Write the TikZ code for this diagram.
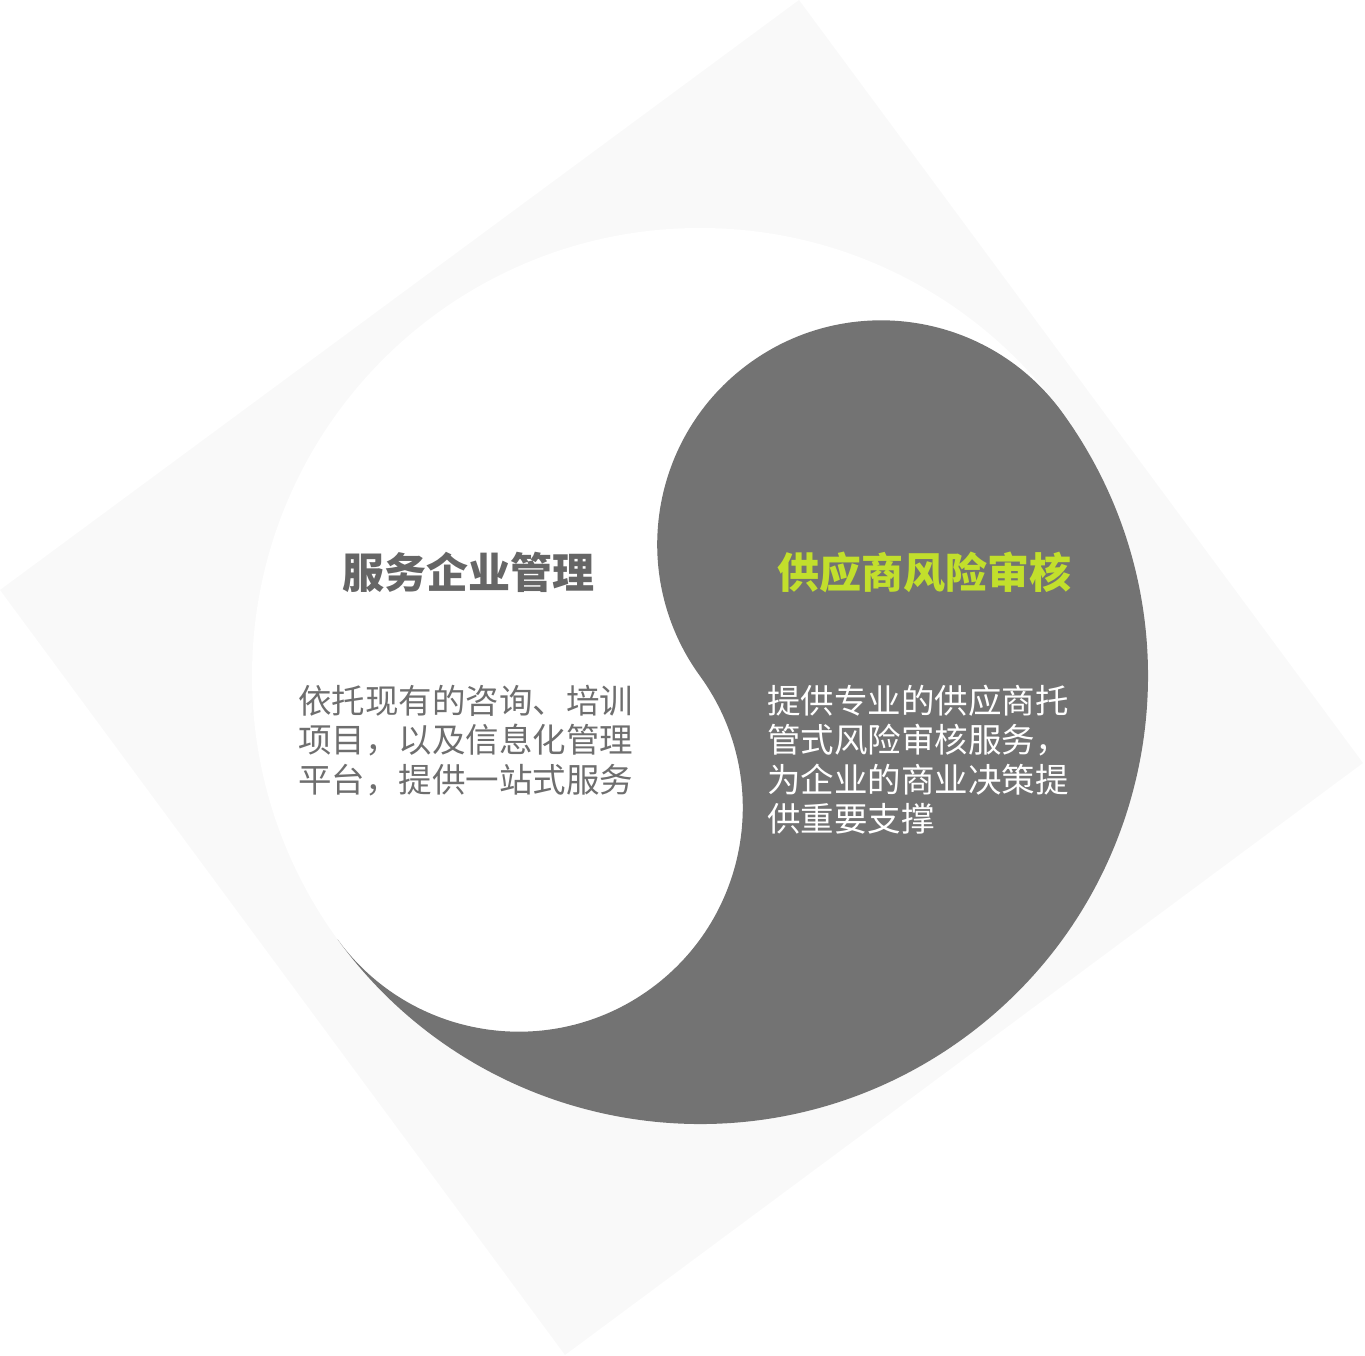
\documentclass[tikz,border=0pt]{standalone}
\usepackage{fontspec}
\setmainfont{Noto Sans CJK SC}
\definecolor{bgdiamond}{HTML}{F9F9F9}
\definecolor{yingray}{HTML}{737373}
\definecolor{titlegreen}{HTML}{C2DF2C}
\definecolor{titlegray}{HTML}{666666}
\definecolor{bodygray}{HTML}{6E6E6E}
\tikzset{
  titlefont/.style={font=\fontsize{42pt}{48pt}\selectfont\bfseries, inner sep=0pt, anchor=base},
  bodyfont/.style={font=\fontsize{33.5pt}{40pt}\selectfont, inner sep=0pt, anchor=base west},
}
\begin{document}
\begin{tikzpicture}[x=1pt,y=1pt]
\useasboundingbox (0,0) rectangle (1365,1356);
% faint rotated background square
\fill[bgdiamond] (799,1356) -- (1363,593) -- (565,1) -- (0,766) -- cycle;
% white disc
\fill[white] (700,680) circle[radius=448pt];
% grey yin-yang half
\fill[yingray] (337.55,416.65)
  arc[start angle=216, end angle=396, radius=448pt]
  arc[start angle=36, end angle=216, radius=224pt]
  arc[start angle=36, end angle=-144, radius=224pt] -- cycle;
% titles
\node[titlefont, text=titlegray] (titleL) at (468,767) {服务企业管理};
\node[titlefont, text=titlegreen] (titleR) at (924,767) {供应商风险审核};
% left body
\node[bodyfont, text=bodygray] (bodyL1) at (298,642.5) {依托现有的咨询、培训};
\node[bodyfont, text=bodygray] (bodyL2) at (298,603) {项目，以及信息化管理};
\node[bodyfont, text=bodygray] (bodyL3) at (298,563.5) {平台，提供一站式服务};
% right body
\node[bodyfont, text=white] (bodyR1) at (767,642.5) {提供专业的供应商托};
\node[bodyfont, text=white] (bodyR2) at (767,603) {管式风险审核服务，};
\node[bodyfont, text=white] (bodyR3) at (767,563.5) {为企业的商业决策提};
\node[bodyfont, text=white] (bodyR4) at (767,524) {供重要支撑};
\end{tikzpicture}
\end{document}
